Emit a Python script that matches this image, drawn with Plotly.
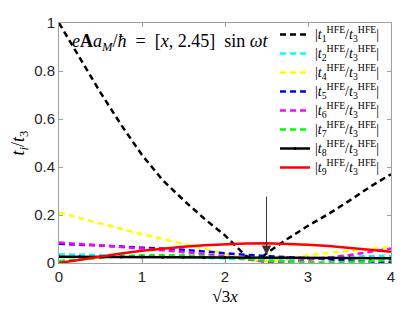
import plotly.graph_objects as go

# ---- data ----
X = [0, 0.25, 0.5, 0.75, 1, 1.25, 1.5, 1.75, 2, 2.25, 2.5, 2.75, 3, 3.25, 3.5, 3.75, 4]
X1 = [0, 0.25, 0.5, 0.75, 1, 1.25, 1.5, 1.75, 2, 2.25, 2.4, 2.5, 2.75, 3, 3.25, 3.5, 3.75, 4]

t1 = [1.0, 0.855, 0.71, 0.575, 0.45, 0.345, 0.262, 0.185, 0.115, 0.03, 0.01, 0.04, 0.1, 0.155, 0.205, 0.26, 0.318, 0.37]
t2 = [0.036, 0.035, 0.034, 0.032, 0.03, 0.028, 0.025, 0.021, 0.018, 0.014, 0.012, 0.015, 0.02, 0.024, 0.027, 0.029, 0.03]
t4 = [0.21, 0.187, 0.165, 0.142, 0.12, 0.1, 0.08, 0.059, 0.038, 0.018, 0.006, 0.02, 0.032, 0.042, 0.051, 0.059, 0.066]
t5 = [0.08, 0.077, 0.073, 0.069, 0.064, 0.06, 0.055, 0.048, 0.04, 0.034, 0.029, 0.024, 0.019, 0.014, 0.01, 0.006, 0.004]
t6 = [0.085, 0.08, 0.074, 0.067, 0.06, 0.053, 0.046, 0.038, 0.028, 0.015, 0.004, 0.005, 0.012, 0.022, 0.033, 0.046, 0.06]
t7 = [0.008, 0.015, 0.022, 0.028, 0.032, 0.033, 0.032, 0.029, 0.025, 0.018, 0.01, 0.005, 0.003, 0.002, 0.003, 0.007, 0.012]
t8 = [0.026, 0.0256, 0.0252, 0.0248, 0.0245, 0.024, 0.0236, 0.0232, 0.0228, 0.0224, 0.022, 0.0216, 0.0212, 0.0208, 0.0204, 0.02, 0.0196]
t9 = [0.0, 0.014, 0.028, 0.04, 0.051, 0.06, 0.068, 0.074, 0.078, 0.081, 0.082, 0.08, 0.076, 0.071, 0.064, 0.056, 0.047]

arrow_x = 2.5
arrow_from = 0.283
arrow_to = 0.033

def lab(i):
    return ("<span style='font-size:14px'>|<i>t</i><sub>%d</sub><sup>HFE</sup>/"
            "<i>t</i><sub>3</sub><sup>HFE</sup>|</span>") % i

SERIF = "Liberation Serif, DejaVu Serif, serif"
SANS = "Liberation Sans, Arial, sans-serif"
DASH = "6px,4px"

fig = go.Figure()
specs = [
    (X1, t1, 1, "black"),
    (X, t2, 2, "cyan"),
    (X, t4, 4, "#ffff00"),
    (X, t5, 5, "#0000ff"),
    (X, t6, 6, "#ff00ff"),
    (X, t7, 7, "#00ff00"),
]
for xs, ys, i, col in specs:
    fig.add_trace(go.Scatter(x=xs, y=ys, mode="lines", name=lab(i),
                             line=dict(color=col, width=2.5, dash=DASH)))
fig.add_trace(go.Scatter(x=X, y=t8, mode="lines+markers", name=lab(8),
                         line=dict(color="black", width=2.5),
                         marker=dict(color="black", size=3)))
fig.add_trace(go.Scatter(x=X, y=t9, mode="lines", name=lab(9),
                         line=dict(color="red", width=2.5)))

fig.add_annotation(x=arrow_x, y=arrow_to, ax=arrow_x, ay=arrow_from,
                   xref="x", yref="y", axref="x", ayref="y",
                   text="", showarrow=True, arrowhead=2, arrowsize=1.9,
                   arrowwidth=1, arrowcolor="#333333")

fig.add_annotation(x=0.13, y=0.975, xref="x", yref="y", xanchor="left", yanchor="top",
                   text="<i>e</i><b>A</b><i>a</i><sub><i>M</i></sub>/<i>ħ</i>  =  [<i>x</i>, 2.45]  sin <i>ωt</i>",
                   showarrow=False, font=dict(family=SERIF, size=18, color="black"))

axis_common = dict(showline=True, linecolor="#a0a0a0", linewidth=1, mirror="ticks",
                   ticks="inside", ticklen=4, tickcolor="#a0a0a0", showgrid=False,
                   zeroline=False, automargin=False,
                   tickfont=dict(family=SANS, size=15, color="#262626"))

# page body has an 8px default margin, so the figure is shrunk by that amount
fig.update_layout(
    width=407, height=304,
    margin=dict(l=51, r=24, t=15, b=49),
    plot_bgcolor="white", paper_bgcolor="white",
    showlegend=True,
    legend=dict(x=0.6506, y=1.0125, xanchor="left", yanchor="top", bgcolor="rgba(255,255,255,0)",
                font=dict(family=SERIF, size=11.1, color="black"), tracegroupgap=0,
                itemwidth=30, maxheight=300),
    xaxis=dict(range=[0, 4], dtick=1, tick0=0,
               title=dict(text="√3<i>x</i>", font=dict(family=SERIF, size=17, color="black"), standoff=6),
               **axis_common),
    yaxis=dict(range=[0, 1], dtick=0.2, tick0=0,
               title=dict(text="<i>t<sub>i</sub></i>/<i>t</i><sub>3</sub>", font=dict(family=SERIF, size=18, color="black"), standoff=6),
               **axis_common),
)

fig.write_html("out.html")
